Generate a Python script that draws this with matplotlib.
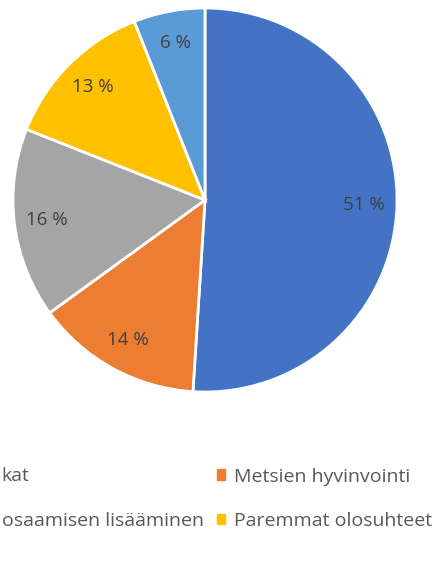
import matplotlib
matplotlib.use("Agg")
import matplotlib.pyplot as plt
from matplotlib.patches import Patch

plt.rcParams['font.family'] = ['Open Sans', 'DejaVu Sans']

# osuudet myötäpäivään ylhäältä alkaen
shares = [51, 14, 16, 13, 6]
colors = ['#4472C4', '#ED7D31', '#A5A5A5', '#FFC000', '#5B9BD5']
# selite: näkyvät osat (kuva on rajattu)
left_labels = ['kat', 'osaamisen lisääminen']
right_labels = ['Metsien hyvinvointi', 'Paremmat olosuhteet']
right_colors = [colors[1], colors[3]]

fig = plt.figure(figsize=(4.4, 5.77), dpi=100)
ax = fig.add_axes([13 / 440, 185 / 577, 384 / 440, 384 / 577])

wedges, texts, autotexts = ax.pie(
    shares, colors=colors, startangle=90, counterclock=False,
    autopct=lambda p: f'{p:.0f} %', pctdistance=0.83,
    wedgeprops={'edgecolor': 'white', 'linewidth': 2, 'clip_on': False},
    textprops={'color': '#404040', 'fontsize': 13.5})
ax.set_xlim(-1, 1)
ax.set_ylim(-1, 1)
ax.set_aspect('equal')
ax.axis('off')

# vasen sarake (kuva on rajattu vasemmalta)
fig.text(1 / 440, 1 - 476 / 577, left_labels[0],
         ha='left', va='center', color='#595959', fontsize=14)
fig.text(204 / 440, 1 - 521 / 577, left_labels[1],
         ha='right', va='center', color='#595959', fontsize=14)

# oikea sarake
handles = [Patch(color=c) for c in right_colors]
leg = fig.legend(handles, right_labels, loc='upper left',
                 bbox_to_anchor=(199 / 440, 1 - 450 / 577), frameon=False,
                 handlelength=0.45, handleheight=0.45, handletextpad=0.45,
                 labelspacing=1.35, fontsize=14, labelcolor='#595959')

fig.savefig('out.png', dpi=100)
